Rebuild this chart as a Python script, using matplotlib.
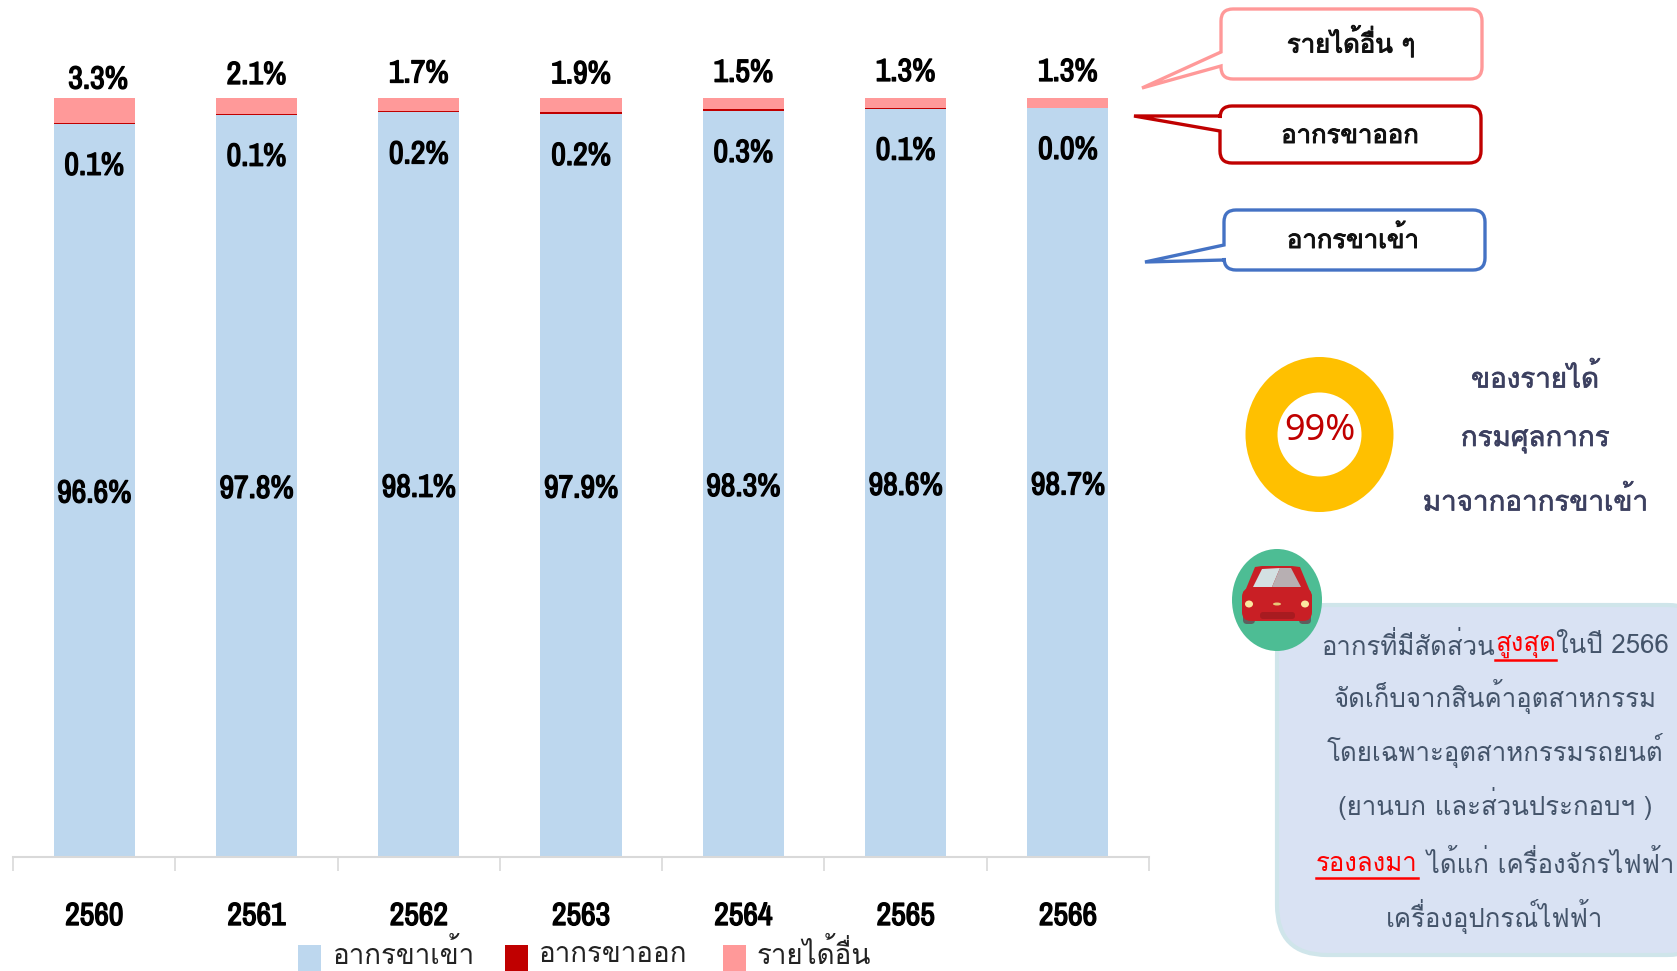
"""
plot.py -- customs revenue share by type, 2560-2566 (stacked bars + side notes).
"""

import matplotlib
matplotlib.use("Agg")
import matplotlib.pyplot as plt
import matplotlib.patheffects as pe
from matplotlib.patches import Ellipse, FancyBboxPatch, PathPatch, Polygon, Rectangle
from matplotlib.path import Path

years = ["2560", "2561", "2562", "2563", "2564", "2565", "2566"]
import_duty = [96.6, 97.8, 98.1, 97.9, 98.3, 98.6, 98.7]
export_duty = [0.1, 0.1, 0.2, 0.2, 0.3, 0.1, 0.0]
other_income = [3.3, 2.1, 1.7, 1.9, 1.5, 1.3, 1.3]

series_names = ["อากรขาเข้า", "อากรขาออก", "รายได้อื่น"]
callout_names = ["รายได้อื่น ๆ", "อากรขาออก", "อากรขาเข้า"]
donut_label = "99%"
donut_note = ["ของรายได้", "กรมศุลกากร", "มาจากอากรขาเข้า"]

BLUE = "#BDD7EE"
RED = "#C00000"
PINK = "#FF9999"
THAI = ["Loma", "Sarabun", "DejaVu Sans"]
NARROW = ["Archivo Narrow", "Liberation Sans", "DejaVu Sans"]
W, H = 1677, 971

fig = plt.figure(figsize=(W / 100, H / 100), dpi=100)

# bars
ax = fig.add_axes([13 / W, 1 - 857 / H, 1136 / W, 759 / H])
x = range(len(years))
bottom2 = import_duty
bottom3 = [a + b for a, b in zip(import_duty, export_duty)]
ax.bar(x, import_duty, width=0.5, color=BLUE)
ax.bar(x, other_income, width=0.5, bottom=bottom3, color=PINK)
ax.bar(x, export_duty, width=0.5, bottom=bottom2, color=RED)
ax.set_xlim(-0.5, len(years) - 0.5)
ax.set_ylim(0, 100)
for s in ["top", "left", "right"]:
    ax.spines[s].set_visible(False)
ax.spines["bottom"].set_color("#D9D9D9")
ax.spines["bottom"].set_linewidth(1.5)
ax.set_yticks([])
ax.set_xticks([i - 0.5 for i in range(len(years) + 1)], labels=[""] * (len(years) + 1))
ax.tick_params(axis="x", length=10, width=1.2, color="#D9D9D9")

# the narrow face has no bold cut here, so thicken it with a stroke
bold = [pe.withStroke(linewidth=1.0, foreground="black")]
label_kw = dict(textcoords="offset pixels", ha="center", va="center", family=NARROW,
                fontsize=23, path_effects=bold)
for i, yr in enumerate(years):
    ax.annotate(yr, (i, 0), xytext=(0, -59), **label_kw)
    ax.annotate(f"{import_duty[i]:.1f}%", (i, import_duty[i] / 2), xytext=(0, -3), **label_kw)
    ax.annotate(f"{export_duty[i]:.1f}%", (i, bottom2[i]), xytext=(0, -42), **label_kw)
    ax.annotate(f"{other_income[i]:.1f}%", (i, 100 - other_income[i] / 2),
                xytext=(4 if i == 0 else 0, 31), **label_kw)

# everything else sits on a pixel overlay
ov = fig.add_axes([0, 0, 1, 1], zorder=3)
ov.set_xlim(0, W)
ov.set_ylim(H, 0)
ov.axis("off")
ov.patch.set_alpha(0)


def callout(x0, x1, y0, y1, tip, base0, base1, color, r=12):
    # rounded box with a pointer on its left edge
    verts = [(x0, base1), tip, (x0, base0), (x0, y0 + r), (x0, y0), (x0 + r, y0),
             (x1 - r, y0), (x1, y0), (x1, y0 + r), (x1, y1 - r), (x1, y1), (x1 - r, y1),
             (x0 + r, y1), (x0, y1), (x0, y1 - r), (x0, base1)]
    codes = [Path.MOVETO, Path.LINETO, Path.LINETO, Path.LINETO, Path.CURVE3, Path.CURVE3,
             Path.LINETO, Path.CURVE3, Path.CURVE3, Path.LINETO, Path.CURVE3, Path.CURVE3,
             Path.LINETO, Path.CURVE3, Path.CURVE3, Path.CLOSEPOLY]
    ov.add_patch(PathPatch(Path(verts, codes), facecolor="white", edgecolor=color, linewidth=2.4))


callout(1221, 1482, 9, 79, (1142, 88), 52, 66, PINK)
callout(1220, 1481, 106, 163, (1134, 116), 116, 131, RED)
callout(1224, 1485, 210, 270, (1145, 262), 245, 260, "#4472C4")
for cx, cy, label in zip([1351, 1350, 1353], [41, 136, 239], callout_names):
    ov.text(cx, cy, label, ha="center", va="center", family=THAI, fontsize=18.5, color="#111111",
            path_effects=[pe.withStroke(linewidth=0.7, foreground="#111111")])

# donut
ov.add_patch(Ellipse((1319.5, 434.5), 148, 155, color="#FFC000", linewidth=0))
ov.add_patch(Ellipse((1319.5, 434.5), 84, 84, color="white", linewidth=0))
ov.text(1319.5, 431, donut_label, ha="center", va="center", color=RED, family=["Noto Sans", "DejaVu Sans"], fontsize=26)
for cy, line in zip([378, 440, 501], donut_note):
    ov.text(1535, cy, line, ha="center", va="center", color="#3C4060", family=THAI, fontsize=20,
            path_effects=[pe.withStroke(linewidth=0.5, foreground="#3C4060")])

# note box, runs off the right edge like the original
ov.add_patch(FancyBboxPatch((1277 + 50, 605 + 50), W + 40 - 1277 - 100, 350 - 100,
                            boxstyle="round,pad=50,rounding_size=50", facecolor="#D9E2F3",
                            edgecolor="#CFE5EA", linewidth=3, clip_on=True))

NOTE_GREY = "#44546A"
note_lines = [
    (646, [("อากรที่มีสัดส่วน", False), ("สูงสุด", True), ("ในปี 2566", False)]),
    (697, [("จัดเก็บจากสินค้าอุตสาหกรรม", False)]),
    (750, [("โดยเฉพาะอุตสาหกรรมรถยนต์", False)]),
    (804, [("(ยานบก และส่วนประกอบฯ )", False)]),
    (864, [("รองลงมา", True), (" ได้แก่ เครื่องจักรไฟฟ้า", False)]),
    (917, [("เครื่องอุปกรณ์ไฟฟ้า", False)]),
]
renderer = fig.canvas.get_renderer()
for cy, parts in note_lines:
    texts = [ov.text(0, cy, s, ha="left", va="center", family=THAI, fontsize=18.6,
                     color="#FF0000" if hot else NOTE_GREY) for s, hot in parts]
    widths = [t.get_window_extent(renderer).width for t in texts]
    left = 1495 - sum(widths) / 2
    for t, w_, (s, hot) in zip(texts, widths, parts):
        t.set_x(left)
        if hot:
            ov.plot([left, left + w_], [cy + 14, cy + 14], color="#FF0000", lw=1.8)
        left += w_

# car badge
ov.add_patch(Ellipse((1277, 600), 90, 102, color="#4DBD94", linewidth=0))
ov.add_patch(FancyBboxPatch((1243, 606), 12, 18, boxstyle="round,pad=0,rounding_size=4", color="#5E5E5E", linewidth=0))
ov.add_patch(FancyBboxPatch((1299, 606), 12, 18, boxstyle="round,pad=0,rounding_size=4", color="#5E5E5E", linewidth=0))
ov.add_patch(Polygon([(1243, 596), (1255, 567), (1262, 566), (1292, 566), (1300, 567), (1312, 596)],
                     closed=True, color="#C91F25", linewidth=0))
ov.add_patch(FancyBboxPatch((1242, 588), 70, 33, boxstyle="round,pad=0,rounding_size=9", color="#C91F25", linewidth=0))
ov.add_patch(Polygon([(1253, 587), (1262, 569), (1280, 568), (1272, 587)], closed=True, color="#D3E0E2", linewidth=0))
ov.add_patch(Polygon([(1272, 587), (1280, 568), (1291, 568), (1301, 587)], closed=True, color="#B7AFB2", linewidth=0))
ov.add_patch(FancyBboxPatch((1260, 612), 35, 7, boxstyle="round,pad=0,rounding_size=3", color="#A81B20", linewidth=0))
ov.add_patch(Ellipse((1249, 604), 8, 7, color="#FBE8A0", linewidth=0))
ov.add_patch(Ellipse((1305, 604), 8, 7, color="#FBE8A0", linewidth=0))
ov.add_patch(Ellipse((1277, 604), 8, 3, color="#E8C878", linewidth=0))

# legend
for sx, tx, color, label in zip([298, 505, 723], [333, 539, 757], [BLUE, RED, PINK], series_names):
    ov.add_patch(Rectangle((sx, 945), 23, 26, color=color, linewidth=0))
    ov.text(tx, 955, label, ha="left", va="center", family=THAI, fontsize=20, color="#222222")

fig.savefig("out.png", dpi=100)
